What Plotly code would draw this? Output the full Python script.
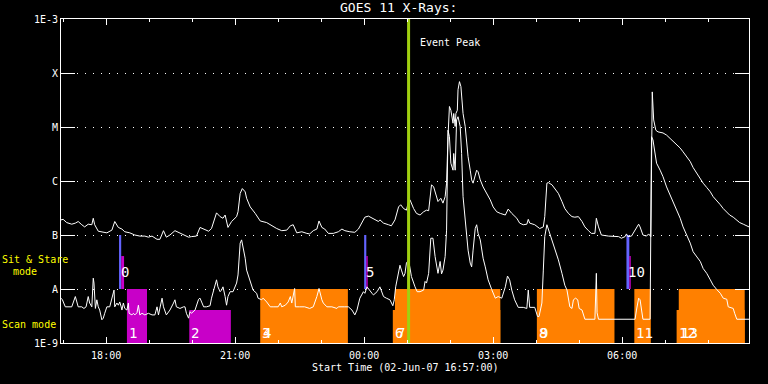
import numpy as np
import pandas as pd
import plotly.graph_objects as go

START = pd.Timestamp("2007-06-02 16:57:00")
END = pd.Timestamp("2007-06-03 08:57:00")

# GOES 11 long channel: (minutes after start, log10 flux W/m^2)
LONG = [(0,-6.72),(3,-6.71),(8,-6.77),(15,-6.80),(20,-6.78),(24,-6.75),(29,-6.81),(33,-6.85),(38,-6.80),(43,-6.81),
        (45,-6.69),(47,-6.81),(52,-6.93),(57,-6.94),(64,-6.96),(71,-6.91),(75,-6.75),(80,-6.86),(85,-6.89),(89,-6.94),
        (96,-6.96),(103,-7.00),(110,-7.02),(117,-7.02),(122,-7.04),(127,-7.02),(134,-7.08),(138,-7.08),(143,-6.92),(147,-7.04),
        (152,-7.00),(159,-6.92),(166,-6.96),(173,-7.00),(178,-7.04),(182,-7.03),(189,-7.02),(194,-6.86),(199,-6.89),(206,-6.93),
        (210,-6.88),(217,-6.59),(222,-6.66),(226,-6.69),(229,-6.63),(233,-6.86),(238,-6.75),(245,-6.66),(247,-6.57),(250,-6.23),
        (253,-6.14),(257,-6.20),(259,-6.32),(264,-6.48),(271,-6.60),(278,-6.74),(287,-6.77),(294,-6.83),(301,-6.88),(308,-6.92),
        (315,-6.91),(320,-6.83),(324,-6.81),(329,-6.96),(336,-6.94),(343,-6.97),(347,-6.98),(352,-6.92),(357,-6.89),(360,-6.74),
        (364,-6.86),(368,-6.89),(373,-6.97),(380,-6.97),(387,-6.94),(392,-6.89),(396,-6.92),(403,-6.94),(410,-6.95),(415,-6.89),
        (420,-6.75),(424,-6.67),(429,-6.65),(434,-6.69),(438,-6.72),(443,-6.75),(445,-6.72),(450,-6.78),(457,-6.81),(461,-6.83),
        (466,-6.72),(471,-6.48),(474,-6.44),(478,-6.51),(482,-6.54),(485,-6.38),(487,-6.35),(492,-6.51),(496,-6.60),(501,-6.63),
        (506,-6.57),(510,-6.54),(513,-6.55),(515,-6.28),(517,-6.07),(520,-6.11),(524,-6.29),(526,-6.38),(530,-6.32),(533,-6.41),
        (536,-6.29),(538,-6.04),(540,-5.18),(542,-4.62),(544,-4.69),(547,-4.93),(548,-4.75),(550,-4.99),(551,-4.75),(553,-4.69),
        (554,-4.31),(556,-4.16),(558,-4.25),(559,-4.44),(561,-4.75),(564,-4.99),(566,-5.30),(568,-5.55),(571,-5.80),(573,-5.98),
        (575,-6.04),(578,-5.92),(580,-5.80),(582,-5.83),(585,-5.98),(589,-6.11),(594,-6.23),(599,-6.35),(603,-6.48),(608,-6.57),
        (613,-6.60),(620,-6.63),(624,-6.52),(629,-6.60),(636,-6.69),(640,-6.78),(645,-6.81),(650,-6.80),(652,-6.71),(654,-6.78),
        (661,-6.81),(668,-6.88),(673,-6.85),(675,-6.66),(678,-6.04),(680,-6.03),(685,-6.07),(689,-6.14),(694,-6.23),(699,-6.38),
        (703,-6.51),(708,-6.60),(713,-6.66),(717,-6.67),(722,-6.66),(727,-6.75),(731,-6.85),(736,-6.92),(740,-6.97),(745,-6.97),
        (747,-6.69),(750,-6.85),(754,-7.00),(764,-7.02),(773,-7.02),(778,-7.03),(782,-7.06),(787,-7.03),(789,-6.98),(791,-7.03),
        (796,-7.02),(801,-6.91),(806,-6.80),(808,-6.85),(812,-7.00),(817,-7.02),(820,-6.98),(823,-7.03),(825,-4.35),(827,-4.87),
        (830,-5.06),(833,-5.09),(840,-5.11),(845,-5.15),(850,-5.21),(854,-5.27),(859,-5.33),(864,-5.39),(868,-5.46),(873,-5.55),
        (878,-5.64),(882,-5.75),(887,-5.86),(892,-5.95),(896,-6.04),(901,-6.12),(906,-6.20),(910,-6.29),(915,-6.36),(920,-6.44),
        (924,-6.51),(929,-6.57),(933,-6.63),(938,-6.67),(943,-6.72),(947,-6.77),(952,-6.80),(957,-6.83),(960,-6.85)]

# GOES 11 short channel: (minutes after start, log10 flux W/m^2)
SHORT = [(0,-8.17),(2,-8.20),(6,-8.33),(10,-8.33),(15,-8.33),(20,-8.14),(22,-8.26),(24,-8.33),(29,-8.33),(32,-8.36),
         (35,-8.33),(38,-8.14),(40,-8.26),(43,-8.33),(45,-7.80),(46,-7.89),(48,-8.36),(50,-8.20),(52,-8.33),(54,-8.39),
         (57,-8.57),(59,-8.54),(61,-8.45),(64,-8.33),(68,-8.33),(72,-8.08),(74,-8.02),(75,-8.33),(78,-8.26),(80,-8.30),
         (82,-8.24),(84,-8.33),(85,-8.39),(87,-8.26),(89,-8.36),(92,-8.39),(94,-8.26),(95,-8.45),(99,-8.48),(101,-8.45),
         (103,-8.48),(106,-8.44),(108,-8.30),(110,-8.48),(113,-8.45),(117,-8.48),(122,-8.45),(127,-8.48),(131,-8.48),(134,-8.33),
         (136,-8.48),(141,-8.17),(143,-8.33),(147,-8.48),(152,-8.39),(157,-8.26),(159,-8.20),(161,-8.33),(166,-8.36),(171,-8.33),
         (173,-8.33),(175,-8.45),(178,-8.54),(180,-8.42),(182,-8.45),(187,-8.39),(189,-8.30),(192,-8.19),(194,-8.17),(199,-8.33),
         (203,-8.33),(208,-8.31),(210,-8.17),(213,-8.02),(217,-7.83),(219,-7.96),(222,-8.05),(224,-8.02),(226,-7.96),(229,-8.14),
         (231,-8.30),(233,-8.14),(236,-8.05),(240,-8.05),(245,-7.89),(247,-7.74),(250,-7.15),(252,-7.09),(254,-7.22),(257,-7.43),
         (259,-7.65),(261,-7.74),(264,-7.86),(266,-7.96),(268,-8.02),(273,-8.08),(275,-8.17),(280,-8.20),(282,-8.17),(287,-8.24),
         (292,-8.33),(296,-8.33),(303,-8.33),(306,-8.26),(308,-8.33),(313,-8.30),(317,-8.24),(320,-8.14),(322,-8.26),(326,-7.99),
         (327,-8.33),(333,-8.33),(340,-8.33),(347,-8.36),(352,-8.33),(357,-8.14),(360,-7.99),(364,-8.20),(366,-8.26),(371,-8.33),
         (378,-8.33),(385,-8.36),(387,-8.33),(396,-8.33),(401,-8.33),(406,-8.39),(410,-8.48),(413,-8.39),(417,-8.17),(422,-8.05),
         (424,-8.08),(427,-7.96),(430,-8.02),(434,-8.08),(436,-8.11),(441,-8.05),(445,-7.96),(450,-8.14),(454,-8.17),(459,-8.20),
         (463,-8.31),(465,-8.20),(467,-7.96),(471,-7.68),(473,-7.56),(475,-7.65),(478,-7.77),(480,-7.71),(482,-7.52),(485,-7.46),
         (487,-7.62),(489,-7.77),(494,-7.96),(497,-8.05),(501,-8.05),(506,-8.02),(508,-7.86),(510,-7.89),(513,-7.71),(516,-7.06),
         (519,-7.06),(522,-7.40),(526,-7.71),(529,-7.49),(531,-7.72),(533,-7.65),(536,-7.40),(538,-6.91),(540,-5.06),(542,-5.18),
         (544,-5.67),(547,-5.80),(548,-5.49),(550,-5.80),(552,-4.87),(554,-4.81),(557,-4.99),(559,-5.49),(561,-6.29),(564,-6.78),
         (566,-7.09),(568,-7.28),(571,-7.52),(573,-7.59),(575,-7.28),(578,-6.88),(580,-6.81),(582,-6.97),(585,-7.09),(587,-7.28),
         (589,-7.43),(592,-7.59),(594,-7.71),(596,-7.83),(601,-8.01),(606,-8.17),(610,-8.14),(615,-8.17),(620,-7.96),(623,-7.76),
         (626,-7.83),(629,-8.02),(633,-8.20),(638,-8.34),(645,-8.34),(650,-8.36),(652,-8.02),(654,-8.34),(661,-8.34),(665,-8.51),
         (667,-8.51),(671,-8.26),(673,-7.65),(675,-7.03),(678,-6.81),(682,-6.97),(687,-7.15),(689,-7.25),(694,-7.46),(699,-7.71),
         (703,-7.93),(706,-8.02),(708,-8.20),(710,-8.33),(713,-8.36),(715,-8.20),(718,-8.17),(721,-8.20),(723,-8.36),(727,-8.39),
         (731,-8.56),(745,-8.56),(747,-7.71),(748,-8.44),(750,-8.56),(801,-8.56),(803,-8.39),(806,-8.17),(808,-8.20),(810,-8.39),
         (812,-8.56),(822,-8.56),(824,-5.18),(826,-5.24),(829,-5.55),(831,-5.67),(836,-5.80),(840,-5.92),(845,-6.11),(850,-6.26),
         (854,-6.38),(859,-6.54),(864,-6.69),(868,-6.85),(873,-7.00),(878,-7.15),(882,-7.31),(887,-7.40),(892,-7.49),(896,-7.62),
         (901,-7.71),(906,-7.83),(910,-7.93),(915,-8.01),(920,-8.08),(924,-8.17),(929,-8.19),(931,-8.33),(938,-8.36),(940,-8.45),
         (943,-8.56),(960,-8.56)]

# Scan mode intervals (minutes after start), top level (log10)
scan_labels = ["1", "2", "3", "4", "6", "7", "8", "9", "11", "12", "13"]
scan_start = [92, 179, 278, 279, 463, 466, 664, 665, 800, 859, 862]
scan_end = [120, 237, 400, 400, 613, 613, 772, 772, 823, 954, 954]
scan_top = [-8.0, -8.39, -8.0, -8.0, -8.39, -8.0, -8.0, -8.0, -8.0, -8.39, -8.0]
scan_color = ["#c800c8", "#c800c8", "#ff8000", "#ff8000", "#ff8000", "#ff8000",
              "#ff8000", "#ff8000", "#ff8000", "#ff8000", "#ff8000"]
scan_bottom = -9.0
scan_label_level = -8.81

# Sit & Stare intervals
ss_labels = ["0", "5", "10"]
ss_blue_start = [81, 423, 789]
ss_blue_end = [84, 426, 793]
ss_mag_start = [84, 426, 793]
ss_mag_end = [88, 428, 795]
ss_blue_top = -7.0
ss_mag_top = -7.39
ss_bottom = -8.0
ss_label_level = -7.69

event_peak_min = 485

y_tickvals = [1e-9, 1e-8, 1e-7, 1e-6, 1e-5, 1e-4, 1e-3]
y_ticktext = ["1E-9", "A", "B", "C", "M", "X", "1E-3"]

FONT = "DejaVu Sans Mono"


def t(m):
    return START + pd.to_timedelta(m, unit="min")


fig = go.Figure()

# Scan mode rectangles
for s, e, top, col in zip(scan_start, scan_end, scan_top, scan_color):
    fig.add_trace(go.Scatter(
        x=[t(s), t(e), t(e), t(s), t(s)],
        y=[10**scan_bottom, 10**scan_bottom, 10**top, 10**top, 10**scan_bottom],
        mode="lines", fill="toself", fillcolor=col, line=dict(width=0, color=col),
        hoverinfo="skip", showlegend=False))

# Sit & stare bars
for bs, be, ms, me in zip(ss_blue_start, ss_blue_end, ss_mag_start, ss_mag_end):
    fig.add_trace(go.Scatter(
        x=[t(bs), t(be), t(be), t(bs), t(bs)],
        y=[10**ss_bottom, 10**ss_bottom, 10**ss_blue_top, 10**ss_blue_top, 10**ss_bottom],
        mode="lines", fill="toself", fillcolor="#6464ff", line=dict(width=0, color="#6464ff"),
        hoverinfo="skip", showlegend=False))
    fig.add_trace(go.Scatter(
        x=[t(ms), t(me), t(me), t(ms), t(ms)],
        y=[10**ss_bottom, 10**ss_bottom, 10**ss_mag_top, 10**ss_mag_top, 10**ss_bottom],
        mode="lines", fill="toself", fillcolor="#c800c8", line=dict(width=0, color="#c800c8"),
        hoverinfo="skip", showlegend=False))

# Flux curves
for data in (LONG, SHORT):
    mins, logs = zip(*data)
    fig.add_trace(go.Scatter(
        x=[t(m) for m in mins], y=10**np.array(logs),
        mode="lines", line=dict(color="white", width=1), hoverinfo="skip", showlegend=False))

# Event peak line
fig.add_trace(go.Scatter(
    x=[t(event_peak_min), t(event_peak_min)], y=[1e-9, 1e-3],
    mode="lines", line=dict(color="#a0d010", width=3), hoverinfo="skip", showlegend=False))

annotations = []
for lab, s in zip(scan_labels, scan_start):
    annotations.append(dict(x=t(s), y=scan_label_level, xref="x", yref="y", text=lab,
                            showarrow=False, xanchor="left", yanchor="middle",
                            font=dict(family=FONT, size=14, color="white")))
for lab, s in zip(ss_labels, ss_blue_start):
    annotations.append(dict(x=t(s), y=ss_label_level, xref="x", yref="y", text=lab,
                            showarrow=False, xanchor="left", yanchor="middle",
                            font=dict(family=FONT, size=14, color="white")))

annotations += [
    dict(x=0.49, y=1.034, xref="paper", yref="paper", text="GOES 11 X-Rays:", showarrow=False,
         xanchor="center", yanchor="middle", font=dict(family=FONT, size=13, color="white")),
    dict(x=0.5, y=-0.077, xref="paper", yref="paper", text="Start Time (02-Jun-07 16:57:00)",
         showarrow=False, xanchor="center", yanchor="middle", font=dict(family=FONT, size=10, color="white")),
    dict(x=0.519, y=0.926, xref="paper", yref="paper", text="Event Peak", showarrow=False,
         xanchor="left", yanchor="middle", font=dict(family=FONT, size=10, color="white")),
    dict(x=-0.0887, y=0.259, xref="paper", yref="paper", text="Sit & Stare", showarrow=False,
         xanchor="left", yanchor="middle", font=dict(family=FONT, size=10, color="#ffff00")),
    dict(x=-0.0727, y=0.222, xref="paper", yref="paper", text="mode", showarrow=False,
         xanchor="left", yanchor="middle", font=dict(family=FONT, size=10, color="#ffff00")),
    dict(x=-0.0887, y=0.0586, xref="paper", yref="paper", text="Scan mode", showarrow=False,
         xanchor="left", yanchor="middle", font=dict(family=FONT, size=10, color="#ffff00")),
]

fig.update_layout(
    width=768, height=384,
    margin=dict(l=61, r=19, t=19, b=41, pad=0),
    paper_bgcolor="black", plot_bgcolor="black",
    showlegend=False,
    annotations=annotations,
    xaxis=dict(
        type="date", range=[START, END],
        tickmode="linear", tick0="2007-06-02 18:00", dtick=3 * 3600000, tickformat="%H:%M",
        ticks="inside", ticklen=6, tickcolor="white", tickwidth=1,
        minor=dict(dtick=3600000, tick0="2007-06-02 18:00", ticks="inside", ticklen=3,
                   tickcolor="white", showgrid=False),
        showline=True, linecolor="white", linewidth=1, mirror="ticks",
        showgrid=False, zeroline=False, ticklabelstandoff=3,
        tickfont=dict(family=FONT, size=10, color="white"),
    ),
    yaxis=dict(
        type="log", range=[-9, -3],
        tickmode="array", tickvals=y_tickvals, ticktext=y_ticktext,
        ticks="inside", ticklen=14, tickcolor="white", tickwidth=1,
        showline=True, linecolor="white", linewidth=1, mirror="ticks",
        showgrid=True, gridcolor="white", gridwidth=1, griddash="1px,7px",
        zeroline=False,
        tickfont=dict(family=FONT, size=10, color="white"),
    ),
)

fig.write_html("out.html", config={"displayModeBar": False},
               post_script="document.body.style.margin='0';document.body.style.background='black';")
